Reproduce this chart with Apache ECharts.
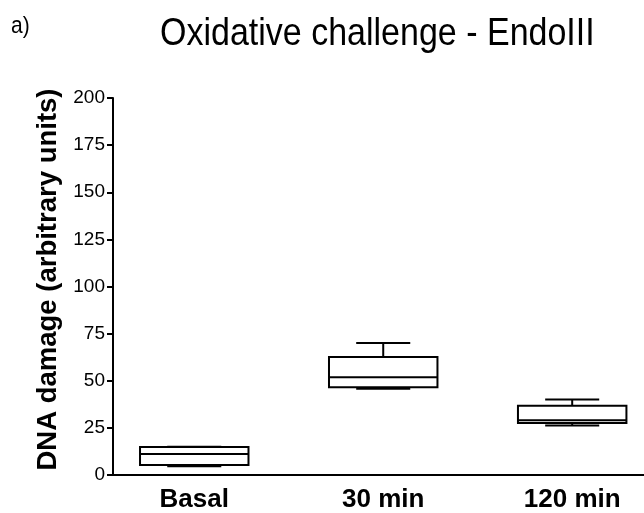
<!DOCTYPE html>
<html>
<head>
<meta charset="utf-8">
<script src="https://cdn.jsdelivr.net/npm/echarts@6/dist/echarts.min.js"></script>
<style>html,body{margin:0;padding:0;background:#fff;}#c{width:644px;height:513px;}</style>
</head>
<body>
<div id="c"></div>
<script>
// Data
var categories = ['Basal', '30 min', '120 min'];
var positions = [0, 1, 2];
var mins    = [4.6, 45.8, 26.2];
var q1s     = [5.3, 46.5, 27.6];
var medians = [11.2, 51.8, 29.0];
var q3s     = [14.9, 62.6, 36.8];
var maxs    = [15.0, 70.0, 40.0];
var yTicks  = [0, 25, 50, 75, 100, 125, 150, 175, 200];

var boxData = positions.map(function (p, i) {
  return [p, mins[i], q1s[i], medians[i], q3s[i], maxs[i]];
});

var chart = echarts.init(document.getElementById('c'));
var FONT = 'Liberation Sans, Arial, sans-serif';

function renderBox(params, api) {
  var x = api.value(0);
  var unit = api.size([1, 0])[0];
  var hw = unit * 0.287;   // half box width
  var cw = unit * 0.143;   // half cap width
  var pMin = api.coord([x, api.value(1)]);
  var pQ1 = api.coord([x, api.value(2)]);
  var pMed = api.coord([x, api.value(3)]);
  var pQ3 = api.coord([x, api.value(4)]);
  var pMax = api.coord([x, api.value(5)]);
  var cx = pMed[0];
  function line(x1, y1, x2, y2, w) {
    return { type: 'line', shape: { x1: x1, y1: y1, x2: x2, y2: y2 }, style: { stroke: '#000', lineWidth: w || 2 } };
  }
  return {
    type: 'group',
    children: [
      line(cx, pQ3[1], cx, pMax[1]),
      line(cx - cw, pMax[1], cx + cw, pMax[1]),
      line(cx, pQ1[1], cx, pMin[1]),
      line(cx - cw, pMin[1], cx + cw, pMin[1]),
      { type: 'rect', shape: { x: cx - hw, y: pQ3[1], width: 2 * hw, height: pQ1[1] - pQ3[1] }, style: { stroke: '#000', lineWidth: 2, fill: '#fff' } },
      line(cx - hw, pMed[1], cx + hw, pMed[1])
    ]
  };
}

chart.setOption({
  animation: false,
  backgroundColor: '#fff',
  graphic: [
    { type: 'text', x: 160, y: 15, scaleY: 1.12,
      style: { text: 'Oxidative challenge - EndoIII', fontFamily: FONT, fontSize: 34, fill: '#000', verticalAlign: 'top' } },
    { type: 'text', x: 11, y: 15, scaleY: 1.1,
      style: { text: 'a)', fontFamily: FONT, fontSize: 21, fill: '#000', verticalAlign: 'top' } }
  ],
  grid: { left: 113, right: 0, top: 98, bottom: 37.5 },
  xAxis: {
    type: 'value',
    min: -0.43,
    max: 2.38,
    splitLine: { show: false },
    axisTick: { show: false },
    axisLine: { show: true, onZero: false, lineStyle: { color: '#000', width: 2 } },
    axisLabel: {
      customValues: positions,
      formatter: function (v) { return categories[Math.round(v)]; },
      fontFamily: FONT, fontSize: 26, fontWeight: 'bold', color: '#000', margin: 12
    }
  },
  yAxis: {
    type: 'value',
    min: yTicks[0],
    max: yTicks[yTicks.length - 1],
    interval: 25,
    name: 'DNA damage (arbitrary units)',
    nameLocation: 'middle',
    nameGap: 37,
    nameTextStyle: { fontFamily: FONT, fontSize: 27.5, fontWeight: 'bold', color: '#000', padding: [0, 0, 0, 14] },
    splitLine: { show: false },
    axisLine: { show: true, onZero: false, lineStyle: { color: '#000', width: 2 } },
    axisTick: { show: true, length: 6, lineStyle: { color: '#000', width: 2 } },
    axisLabel: { fontFamily: FONT, fontSize: 19, color: '#000', margin: 8 }
  },
  series: [{
    type: 'custom',
    renderItem: renderBox,
    encode: { x: 0, y: [1, 2, 3, 4, 5] },
    data: boxData,
    clip: false
  }]
});
</script>
</body>
</html>
